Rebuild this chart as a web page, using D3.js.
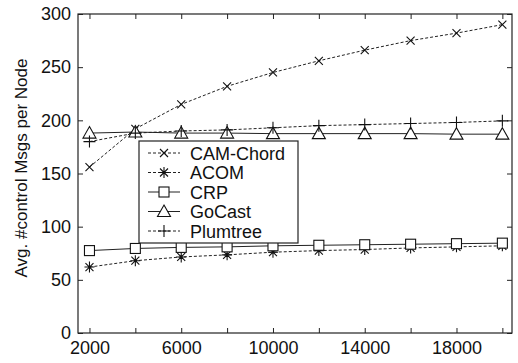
<!DOCTYPE html>
<html>
<head>
<meta charset="utf-8">
<script src="https://cdn.jsdelivr.net/npm/d3@7"></script>
<style>
  body { margin: 0; background: #fff; }
  text { font-family: "Liberation Sans", Arial, sans-serif; }
</style>
</head>
<body>
<div class="chart"></div>
<script>
// node counts on the x axis
var nodes = [2000, 4000, 6000, 8000, 10000, 12000, 14000, 16000, 18000, 20000];
var xTickLabels = [2000, 6000, 10000, 14000, 18000];
var yTicks = [0, 50, 100, 150, 200, 250, 300];

var camChord = [156, 192, 215, 232, 245, 256, 266, 275, 282, 290];
var acom     = [62, 68, 71.5, 73.5, 76, 77.5, 78.5, 80, 81, 82];
var crp      = [77.5, 79.5, 80.5, 81, 82, 82.5, 83, 83.5, 84, 84.5];
var goCast   = [188, 189, 188, 188, 187.5, 187.5, 187.5, 187.5, 187, 187];
var plumtree = [180, 188, 190, 191, 193, 195, 196, 197, 198, 199.5];

var seriesNames = ["CAM-Chord", "ACOM", "CRP", "GoCast", "Plumtree"];

var series = [
  {name: seriesNames[0], values: camChord, marker: "x", dash: "3,2"},
  {name: seriesNames[1], values: acom, marker: "star", dash: "3,2"},
  {name: seriesNames[2], values: crp, marker: "square", dash: null},
  {name: seriesNames[3], values: goCast, marker: "triangle", dash: null},
  {name: seriesNames[4], values: plumtree, marker: "plus", dash: "3,2"}
];

var margin = {top: 14, right: 6, bottom: 30, left: 78},
    width = 518 - margin.left - margin.right,
    height = 363 - margin.top - margin.bottom;

var x = d3.scaleLinear().domain([1500, 20420]).range([0, width]);
var y = d3.scaleLinear().domain([0, 300]).range([height, 0]);

var svg = d3.select(".chart").append("svg")
    .attr("width", 518)
    .attr("height", 363)
  .append("g")
    .attr("transform", "translate(" + margin.left + "," + margin.top + ")");

// axes, ticks pointing inward like matlab
svg.append("g")
    .attr("class", "x-axis")
    .attr("transform", "translate(0," + height + ")")
    .call(d3.axisBottom(x).tickValues(nodes).tickSizeInner(-5).tickSizeOuter(0).tickPadding(8)
      .tickFormat(function(d) { return xTickLabels.indexOf(d) >= 0 ? d : ""; }));

svg.append("g")
    .call(d3.axisTop(x).tickValues(nodes).tickSizeInner(-5).tickSizeOuter(0).tickFormat(""));

svg.append("g")
    .attr("class", "y-axis")
    .call(d3.axisLeft(y).tickValues(yTicks).tickSizeInner(-5).tickSizeOuter(0).tickPadding(7));

svg.append("g")
    .attr("transform", "translate(" + width + ",0)")
    .call(d3.axisRight(y).tickValues(yTicks).tickSizeInner(-5).tickSizeOuter(0).tickFormat(""));

svg.selectAll(".domain").remove();
svg.append("rect")
    .attr("width", width)
    .attr("height", height)
    .attr("fill", "none")
    .attr("stroke", "#222")
    .attr("stroke-width", 1.2);

svg.selectAll(".tick line").attr("stroke", "#222");
svg.selectAll(".tick text")
    .attr("font-size", 18)
    .attr("fill", "#111")
    .style("font-family", "'Liberation Sans', Arial, sans-serif");

svg.append("text")
    .attr("transform", "rotate(-90)")
    .attr("x", -(168 - margin.top))
    .attr("y", -margin.left + 27)
    .attr("text-anchor", "middle")
    .attr("font-size", 17)
    .attr("fill", "#111")
    .text("Avg. #control Msgs per Node");

function drawMarker(g, type) {
  var s = 5;
  if (type === "x") {
    g.append("path").attr("d", "M-4,-4L4,4M-4,4L4,-4");
  } else if (type === "plus") {
    g.append("path").attr("d", "M-6,0L6,0M0,-6L0,6");
  } else if (type === "star") {
    g.append("path").attr("d", "M-5,0L5,0M0,-5.5L0,5.5M-4,-4L4,4M-4,4L4,-4");
  } else if (type === "square") {
    g.append("rect").attr("x", -s).attr("y", -s).attr("width", 2 * s).attr("height", 2 * s)
      .attr("fill", "#fff");
  } else if (type === "triangle") {
    g.append("path").attr("d", "M0,-6.5L6.5,5L-6.5,5Z").attr("fill", "#fff");
  }
}

var line = d3.line()
    .x(function(d, i) { return x(nodes[i]); })
    .y(function(d) { return y(d); });

series.forEach(function(s) {
  svg.append("path")
      .datum(s.values)
      .attr("fill", "none")
      .attr("stroke", "#222")
      .attr("stroke-width", 1)
      .attr("stroke-dasharray", s.dash)
      .attr("d", line);
});

series.forEach(function(s) {
  s.values.forEach(function(v, i) {
    var g = svg.append("g")
        .attr("transform", "translate(" + x(nodes[i]) + "," + y(v) + ")")
        .attr("stroke", "#111")
        .attr("stroke-width", 1.1)
        .attr("fill", "none");
    drawMarker(g, s.marker);
  });
});

// legend
var legend = svg.append("g")
    .attr("transform", "translate(" + (139 - margin.left) + "," + (141 - margin.top) + ")");

legend.append("rect")
    .attr("width", 159)
    .attr("height", 102)
    .attr("fill", "#fff")
    .attr("stroke", "#222")
    .attr("stroke-width", 1.2);

series.forEach(function(s, i) {
  var ly = 12 + i * 19.5;
  legend.append("line")
      .attr("x1", 9).attr("x2", 41)
      .attr("y1", ly).attr("y2", ly)
      .attr("stroke", "#222")
      .attr("stroke-dasharray", s.dash);
  var g = legend.append("g")
      .attr("transform", "translate(25," + ly + ")")
      .attr("stroke", "#111")
      .attr("stroke-width", 1.1)
      .attr("fill", "none");
  drawMarker(g, s.marker);
  legend.append("text")
      .attr("x", 51)
      .attr("y", ly + 6.5)
      .attr("font-size", 18)
      .attr("fill", "#111")
      .text(s.name);
});
</script>
</body>
</html>
